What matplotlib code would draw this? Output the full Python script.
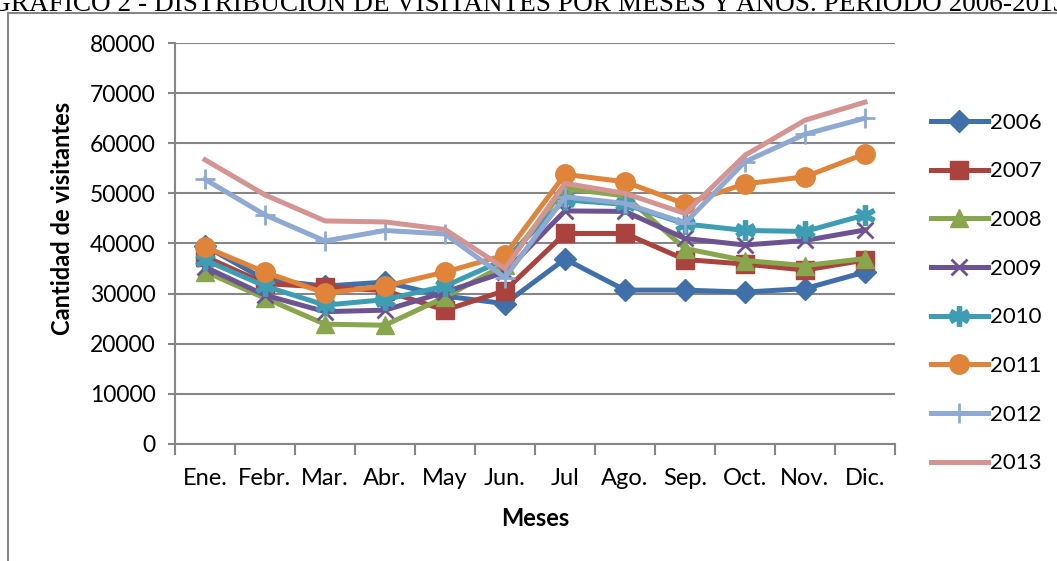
import matplotlib.pyplot as plt
from matplotlib.patches import Rectangle

meses = ["Ene.", "Febr.", "Mar.", "Abr.", "May", "Jun.", "Jul", "Ago.", "Sep.", "Oct.", "Nov.", "Dic."]

v2006 = [39500, 32800, 31500, 32300, 29500, 28000, 36900, 30700, 30700, 30300, 31000, 34300]
v2007 = [37400, 32000, 31300, 30600, 26700, 30600, 42000, 42000, 36800, 35900, 34700, 36700]
v2008 = [34400, 29100, 23900, 23700, 29300, 35800, 51000, 49500, 39000, 36600, 35600, 37000]
v2009 = [35300, 29700, 26400, 26700, 30300, 34300, 46500, 46400, 41000, 39700, 40600, 42700]
v2010 = [36700, 31500, 27700, 28800, 31500, 36800, 48700, 47800, 43900, 42600, 42400, 45700]
v2011 = [39300, 34300, 30100, 31500, 34300, 37700, 53800, 52300, 47900, 51900, 53300, 57900]
v2012 = [52800, 45700, 40500, 42600, 41900, 33200, 49300, 48000, 44100, 56300, 61800, 65000]
v2013 = [56700, 49700, 44500, 44300, 42800, 35000, 52000, 50000, 46000, 57600, 64600, 68200]

series = [
    ("2006", v2006, "#3F70AA", "D", 11),
    ("2007", v2007, "#AA423E", "s", 13),
    ("2008", v2008, "#88A64B", "^", 13),
    ("2009", v2009, "#6E5393", "x", 12),
    ("2010", v2010, "#3C9DB3", "$\u2731$", 14),
    ("2011", v2011, "#E0843A", "o", 14),
    ("2012", v2012, "#8FAAD2", "+", 14),
    ("2013", v2013, "#D49492", "None", 0),
]

plt.rcParams['font.family'] = ['Lato', 'DejaVu Sans']

fig = plt.figure(figsize=(10.57, 5.61), dpi=100)
ax = fig.add_axes([175 / 1057, 1 - 444 / 561, 720 / 1057, 401 / 561])

x = list(range(len(meses)))
for name, vals, col, mk, ms in series:
    ax.plot(x, vals, color=col, lw=3.6, marker=mk, markersize=ms,
            markeredgewidth=2 if mk in ("x", "+") else 1, markeredgecolor=col,
            markerfacecolor=col, label=name, solid_joinstyle='round')

ax.set_xlim(-0.5, 11.5)
ax.set_ylim(0, 80000)
ax.set_yticks(range(0, 80001, 10000))
ax.set_xticks(x)
ax.set_xticklabels(meses, fontsize=17)
ax.tick_params(axis='y', labelsize=16.5, length=5, color='#868686', width=1.5, pad=9)
ax.tick_params(axis='x', length=0, pad=17)
# category boundary ticks
ax.set_xticks([i - 0.5 for i in range(13)], minor=True)
ax.tick_params(axis='x', which='minor', length=8, color='#868686', width=1.5)
ax.grid(axis='y', color='#868686', lw=1.5)
ax.set_axisbelow(True)
for s in ('top', 'right'):
    ax.spines[s].set_visible(False)
for s in ('left', 'bottom'):
    ax.spines[s].set_color('#868686')
    ax.spines[s].set_linewidth(1.5)

ax.set_xlabel("Meses", fontsize=17, fontweight='bold')
ax.xaxis.set_label_coords(0.5, -(519 - 444) / 401)
ax.set_ylabel("Cantidad de visitantes", fontsize=17, fontweight='bold')
ax.yaxis.set_label_coords(-(175 - 62) / 720, (444 - 218) / 401)
ax.xaxis.label.set_va('center')
ax.yaxis.label.set_va('center')

leg = ax.legend(loc='upper left', bbox_to_anchor=(1.05, 0.826), frameon=False,
                fontsize=16, handlelength=2.55, labelspacing=1.29, handletextpad=0.1,
                borderaxespad=0, borderpad=0)

fig.add_artist(Rectangle((8 / 1057, -0.1), 1.2, 1.1 - 13 / 561, transform=fig.transFigure,
                         fill=False, edgecolor='#868686', lw=1.5))
fig.text(0.5, 1 - 11 / 561, "GRÁFICO 2 - DISTRIBUCIÓN DE VISITANTES POR MESES Y AÑOS. PERÍODO 2006-2013",
         ha='center', va='baseline', fontsize=19.6, family='Liberation Serif')

fig.savefig("out.png", dpi=100)
